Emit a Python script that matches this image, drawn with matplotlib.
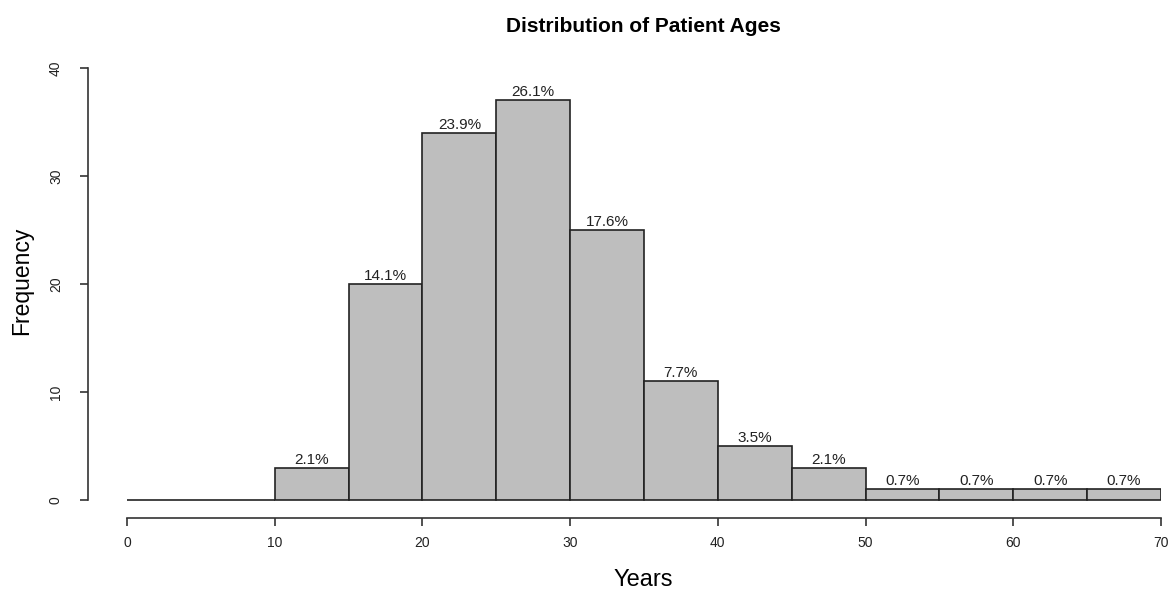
import numpy as np
import matplotlib
matplotlib.use("Agg")
import matplotlib.pyplot as plt

# histogram of patient ages, bins of 5 years
bin_edges = [0, 5, 10, 15, 20, 25, 30, 35, 40, 45, 50, 55, 60, 65, 70]
counts = [0, 0, 3, 20, 34, 37, 25, 11, 5, 3, 1, 1, 1, 1]
x_ticks = [0, 10, 20, 30, 40, 50, 60, 70]
y_ticks = [0, 10, 20, 30, 40]

W, H = 1173, 590
fig = plt.figure(figsize=(W / 100, H / 100), dpi=100)
plt.rcParams['font.family'] = ['Liberation Sans', 'DejaVu Sans']

# axes placed in pixel coords: left spine at 88px, x=70 at 1161px, y axis from 518px to 68px
px_per_x = (1161 - 127) / 70
px_per_y = (500 - 68) / 40
ax = fig.add_axes([88 / W, 1 - 518 / H, (1161 - 88) / W, (518 - 68) / H])
ax.set_xlim(-(127 - 88) / px_per_x, 70)
ax.set_ylim(-(518 - 500) / px_per_y, 40)

edges = np.array(bin_edges)
cnt = np.array(counts)
total = cnt.sum()
ax.bar(edges[:-1], cnt, width=np.diff(edges), align='edge',
       color='#bebebe', edgecolor='#222222', linewidth=1.2)
for left, right, c in zip(edges[:-1], edges[1:], cnt):
    if c > 0:
        ax.text((left + right) / 2, c + 0.1, f"{100 * c / total:.1f}%",
                ha='center', va='bottom', fontsize=11, color='#222222')

for s in ['top', 'right']:
    ax.spines[s].set_visible(False)
ax.spines['left'].set_bounds(0, 40)
ax.spines['bottom'].set_bounds(0, 70)
for s in ['left', 'bottom']:
    ax.spines[s].set_color('#333333')
    ax.spines[s].set_linewidth(1.2)

ax.set_xticks(x_ticks)
ax.set_yticks(y_ticks)
ax.set_yticklabels([str(v) for v in y_ticks], rotation=90, va='center')
ax.tick_params(direction='out', length=6, width=1.2, colors='#333333',
               labelsize=10, labelcolor='#222222', pad=7)
ax.tick_params(axis='y', pad=12)

fig.text(643 / W, 1 - 26 / H, "Distribution of Patient Ages",
         ha='center', va='center', fontsize=15, fontweight='bold')
fig.text(643 / W, 1 - 580 / H, "Years", ha='center', va='center', fontsize=17)
fig.text(22 / W, 1 - 281 / H, "Frequency", ha='center', va='center',
         fontsize=16.5, rotation=90)

fig.savefig("out.png", dpi=100)
